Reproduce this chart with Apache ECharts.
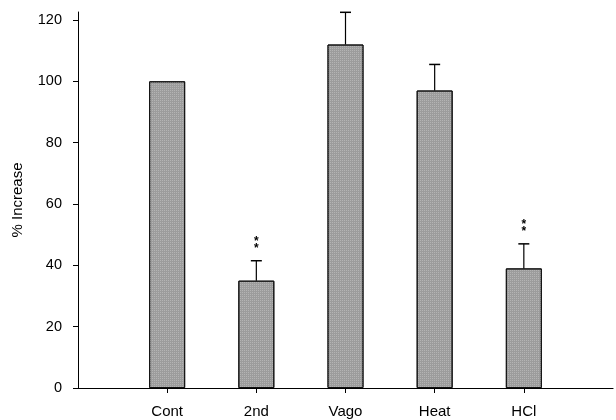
<!DOCTYPE html>
<html>
<head>
<meta charset="utf-8">
<script src="https://cdn.jsdelivr.net/npm/echarts@6/dist/echarts.min.js"></script>
<style>
    html, body {margin: 0; padding: 0; background: #fff;}
    #chartBox {width: 616px; height: 420px;}
</style>
</head>
<body>
<div id="chartBox"></div>
<script>
// blank slots at both ends keep the axis running past the first and last bars
var categories = ['', 'Cont', '2nd', 'Vago', 'Heat', 'HCl', ''];
var means = [null, 100, 35, 112, 97, 39, null];
var errTops = [null, null, 41.5, 122.5, 105.5, 47, null];
var stars = ['', '', '**', '', '', '**', ''];
var yTicks = [0, 20, 40, 60, 80, 100, 120];

var myChart1 = echarts.init(document.getElementById('chartBox'));

var errData = [];
for (var i = 0; i < categories.length; i++) {
    if (errTops[i] != null) {
        errData.push([i, means[i], errTops[i], stars[i]]);
    }
}

var option = {
    animation: false,
    grid: {left: 78, right: 2, top: 12, bottom: 32},
    xAxis: {
        type: 'category',
        data: categories,
        boundaryGap: false,
        axisLine: {lineStyle: {color: '#000', width: 1.2}},
        axisTick: {
            length: 5,
            lineStyle: {color: '#000'},
            interval: function (idx, val) { return val !== ''; }
        },
        axisLabel: {
            interval: 0,
            color: '#000',
            fontFamily: 'Liberation Sans',
            fontSize: 15,
            margin: 16
        }
    },
    yAxis: {
        type: 'value',
        min: 0,
        max: 122.6,
        interval: 20,
        name: '% Increase',
        nameLocation: 'middle',
        nameGap: 53,
        nameTextStyle: {color: '#000', fontFamily: 'Liberation Sans', fontSize: 15},
        splitLine: {show: false},
        axisLine: {show: true, lineStyle: {color: '#000', width: 1}},
        axisTick: {show: true, length: 5, lineStyle: {color: '#000'}},
        axisLabel: {
            color: '#000',
            fontFamily: 'Liberation Sans',
            fontSize: 14.5,
            margin: 16,
            showMaxLabel: false,
            formatter: function (v) { return yTicks.indexOf(v) >= 0 ? v : ''; }
        }
    },
    series: [
        {
            type: 'bar',
            data: means,
            barWidth: 36,
            itemStyle: {
                color: '#9c9c9c',
                borderColor: '#111',
                borderWidth: 1,
                decal: {
                    symbol: 'rect',
                    symbolSize: 1,
                    dashArrayX: [1, 1],
                    dashArrayY: [1, 1],
                    color: 'rgba(225,225,225,0.35)'
                }
            }
        },
        {
            type: 'custom',
            data: errData,
            z: 5,
            renderItem: function (params, api) {
                var base = api.coord([api.value(0), api.value(1)]);
                var top = api.coord([api.value(0), api.value(2)]);
                var kids = [
                    {type: 'line', shape: {x1: base[0], y1: base[1], x2: top[0], y2: top[1]},
                        style: {stroke: '#000', lineWidth: 1.2}},
                    {type: 'line', shape: {x1: top[0] - 5.5, y1: top[1], x2: top[0] + 5.5, y2: top[1]},
                        style: {stroke: '#000', lineWidth: 1.5}}
                ];
                var s = api.value(3);
                if (s) {
                    kids.push({type: 'text', x: top[0], y: top[1] - 16,
                        style: {text: '*\n*', fill: '#000', fontSize: 12, fontWeight: 'bold', lineHeight: 7,
                            fontFamily: 'Liberation Sans', align: 'center', verticalAlign: 'middle'}});
                }
                return {type: 'group', children: kids};
            }
        }
    ]
};
myChart1.setOption(option);
</script>
</body>
</html>
